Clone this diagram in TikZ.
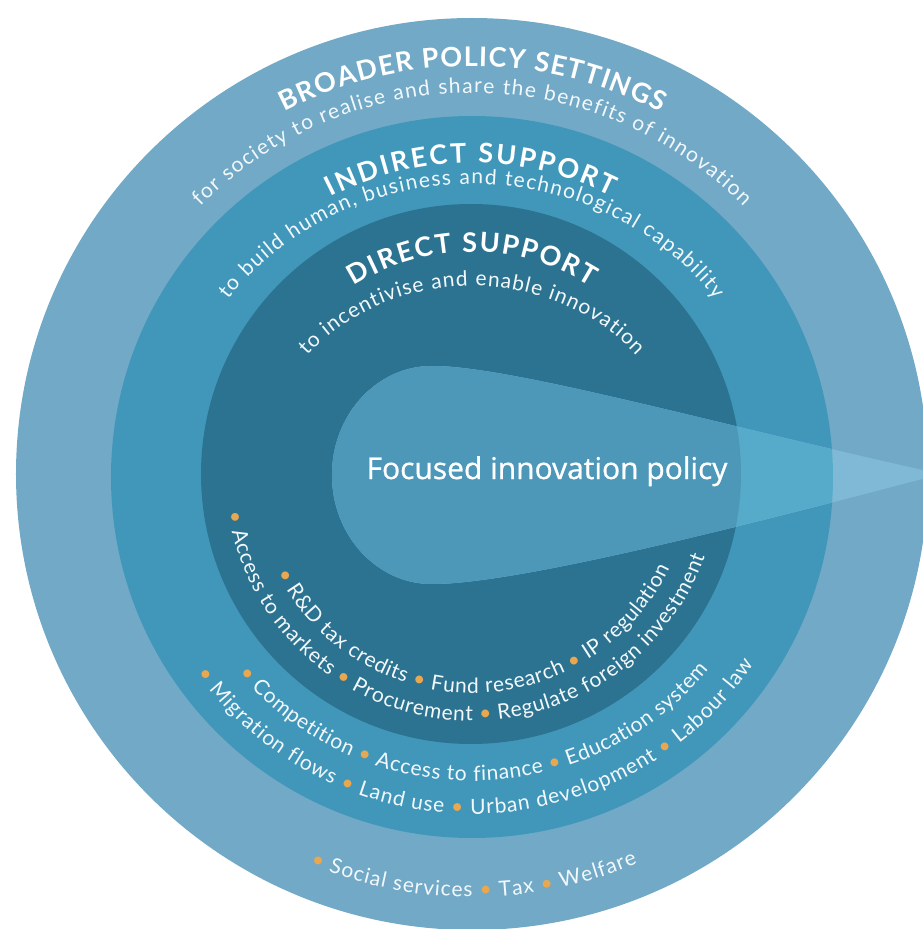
\documentclass[tikz,border=0pt]{standalone}
\usepackage{fontspec}
\usetikzlibrary{decorations.text}

\newfontfamily\latofont{Lato}
\newfontfamily\headfont{Lato}
\newfontfamily\centerfont{Open Sans}[FakeBold=1]

\definecolor{ringouter}{HTML}{71A9C7}
\definecolor{ringmid}{HTML}{4197BA}
\definecolor{ringinner}{HTML}{2C7391}
\definecolor{dropouter}{HTML}{80B9D5}
\definecolor{dropmid}{HTML}{56ABCB}
\definecolor{dropinner}{HTML}{4D97B8}
\definecolor{bulletgold}{HTML}{E9A850}
\definecolor{softwhite}{HTML}{F2F8FB}

% text formats used inside the curved labels (each switch restates the font)
\newcommand\hdfmt{\headfont\bfseries\fontsize{27}{31}\selectfont\color{white}}
\newcommand\subfmt{\latofont\fontsize{21}{25}\selectfont\color{softwhite}}
\newcommand\dotfmt{\latofont\fontsize{21}{25}\selectfont\color{bulletgold}}

% letters are spread evenly over the whole arc
\tikzset{
  curved/.style={decorate, decoration={text along path, text align={fit to path}}},
}

\begin{document}
\begin{tikzpicture}[x=1pt, y=1pt]
\useasboundingbox (-472,-455) rectangle (450,474);

% three nested rings
\fill[ringouter] (0,0) circle[radius=456];
\fill[ringmid] (0,-3) circle[radius=361];
\fill[ringinner] (-1,0) circle[radius=270];

% wedge, tinted differently over each ring
\begin{scope}
  \clip (0,0) circle[radius=456];
  \fill[dropouter] (469,0) .. controls (250,48) and (40,108) .. (-40,108)
    arc[start angle=90, end angle=270, x radius=100, y radius=109]
    .. controls (40,-110) and (250,-58) .. (469,0) -- cycle;
\end{scope}
\begin{scope}
  \clip (0,-3) circle[radius=361];
  \fill[dropmid] (469,0) .. controls (250,48) and (40,108) .. (-40,108)
    arc[start angle=90, end angle=270, x radius=100, y radius=109]
    .. controls (40,-110) and (250,-58) .. (469,0) -- cycle;
\end{scope}
\begin{scope}
  \clip (-1,0) circle[radius=270];
  \fill[dropinner] (469,0) .. controls (250,48) and (40,108) .. (-40,108)
    arc[start angle=90, end angle=270, x radius=100, y radius=109]
    .. controls (40,-110) and (250,-58) .. (469,0) -- cycle;
\end{scope}

\node[anchor=base, text=white, font=\centerfont\fontsize{30}{36}\selectfont]
  (focus) at (75,-5) {Focused innovation policy};

% headings and subtitles along the top
\path[curved, decoration={text={|\hdfmt|BROADER POLICY SETTINGS}}]
  (117.3:408) arc[start angle=117.3, end angle=62.5, radius=408];
\path[curved, decoration={text={|\subfmt|for society to realise and share the benefits of innovation}}]
  (135.5:381) arc[start angle=135.5, end angle=44.5, radius=381];
\path[curved, decoration={text={|\hdfmt|INDIRECT SUPPORT}}]
  (117:311) arc[start angle=117, end angle=63.4, radius=311];
\path[curved, decoration={text={|\subfmt|to build human, business and technological capability}}]
  ({305*cos(143)},{290*sin(143)}) arc[start angle=143, end angle=37, x radius=305, y radius=290];
\path[curved, decoration={text={|\hdfmt|DIRECT SUPPORT}}]
  (122.2:222) arc[start angle=122.2, end angle=57.7, radius=222];
\path[curved, decoration={text={|\subfmt|to incentivise and enable innovation}}]
  ({212*cos(141)},{188*sin(141)}) arc[start angle=141, end angle=39, x radius=212, y radius=188];

% policy lists along the bottom
\path[curved, decoration={text={|\dotfmt|•|\subfmt| R{\&}D tax credits |\dotfmt|•|\subfmt| Fund research |\dotfmt|•|\subfmt| IP regulation}}]
  (207:219) arc[start angle=207, end angle=334.5, radius=219];
\path[curved, decoration={text={|\dotfmt|•|\subfmt| Access to markets |\dotfmt|•|\subfmt| Procurement |\dotfmt|•|\subfmt| Regulate foreign investment}}]
  (189:247) arc[start angle=189, end angle=340.5, radius=247];
\path[curved, decoration={text={|\dotfmt|•|\subfmt| Competition |\dotfmt|•|\subfmt| Access to finance |\dotfmt|•|\subfmt| Education system}}]
  (220.5:307) arc[start angle=220.5, end angle=320.5, radius=307];
\path[curved, decoration={text={|\dotfmt|•|\subfmt| Migration flows |\dotfmt|•|\subfmt| Land use |\dotfmt|•|\subfmt| Urban development |\dotfmt|•|\subfmt| Labour law}}]
  (216:340) arc[start angle=216, end angle=326, radius=340];
\path[curved, decoration={text={|\dotfmt|•|\subfmt| Social services |\dotfmt|•|\subfmt| Tax |\dotfmt|•|\subfmt| Welfare}}]
  (247.5:423) arc[start angle=247.5, end angle=293, radius=423];
\end{tikzpicture}
\end{document}
